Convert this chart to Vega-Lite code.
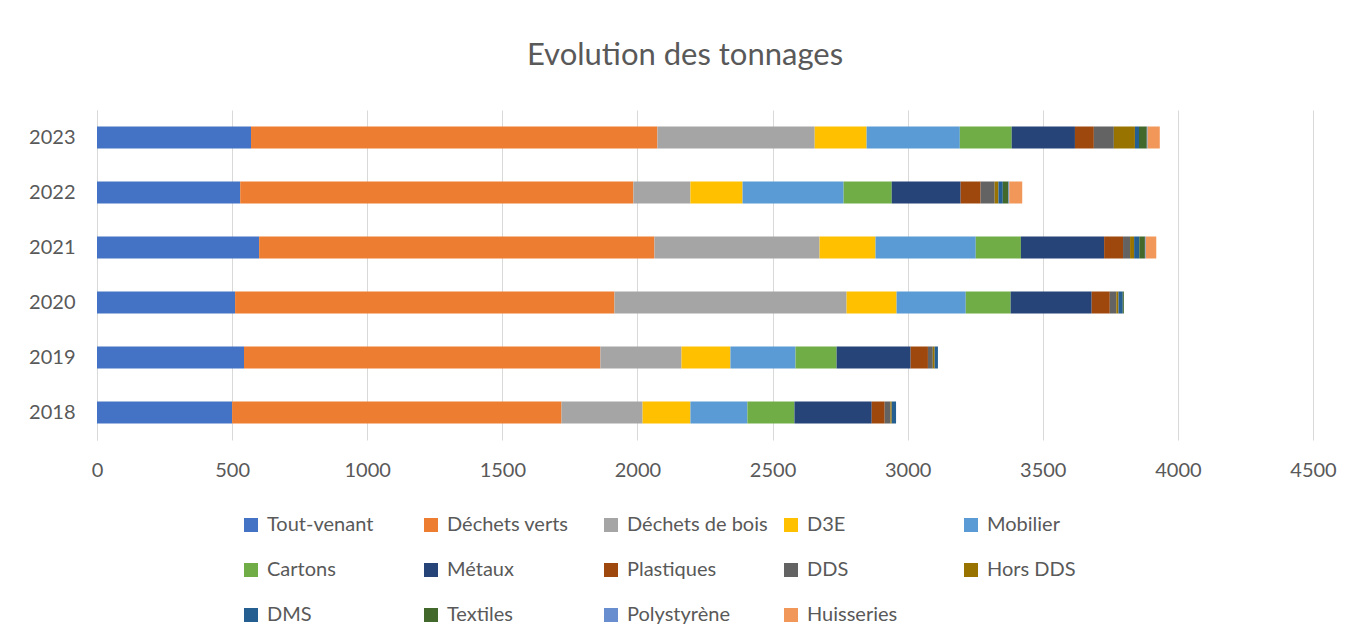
{
  "$schema": "https://vega.github.io/schema/vega-lite/v6.json",
  "width": 1216,
  "height": 330,
  "autosize": {"type": "none"},
  "padding": {"left": 97, "top": 110, "right": 44, "bottom": 201},
  "background": "white",
  "title": {
    "text": "Evolution des tonnages",
    "font": "Lato",
    "fontSize": 31,
    "fontWeight": "normal",
    "color": "#595959",
    "anchor": "middle",
    "dx": -20,
    "offset": 38
  },
  "data": {
    "values": [
      {"year": "2018", "type": "Tout-venant", "t": 500},
      {"year": "2018", "type": "Déchets verts", "t": 1219},
      {"year": "2018", "type": "Déchets de bois", "t": 300},
      {"year": "2018", "type": "D3E", "t": 177},
      {"year": "2018", "type": "Mobilier", "t": 211},
      {"year": "2018", "type": "Cartons", "t": 174},
      {"year": "2018", "type": "Métaux", "t": 286},
      {"year": "2018", "type": "Plastiques", "t": 48},
      {"year": "2018", "type": "DDS", "t": 21},
      {"year": "2018", "type": "Hors DDS", "t": 5},
      {"year": "2018", "type": "DMS", "t": 16},
      {"year": "2019", "type": "Tout-venant", "t": 544},
      {"year": "2019", "type": "Déchets verts", "t": 1319},
      {"year": "2019", "type": "Déchets de bois", "t": 300},
      {"year": "2019", "type": "D3E", "t": 181},
      {"year": "2019", "type": "Mobilier", "t": 241},
      {"year": "2019", "type": "Cartons", "t": 152},
      {"year": "2019", "type": "Métaux", "t": 274},
      {"year": "2019", "type": "Plastiques", "t": 64},
      {"year": "2019", "type": "DDS", "t": 18},
      {"year": "2019", "type": "Hors DDS", "t": 7},
      {"year": "2019", "type": "DMS", "t": 12},
      {"year": "2020", "type": "Tout-venant", "t": 511},
      {"year": "2020", "type": "Déchets verts", "t": 1404},
      {"year": "2020", "type": "Déchets de bois", "t": 859},
      {"year": "2020", "type": "D3E", "t": 185},
      {"year": "2020", "type": "Mobilier", "t": 256},
      {"year": "2020", "type": "Cartons", "t": 166},
      {"year": "2020", "type": "Métaux", "t": 300},
      {"year": "2020", "type": "Plastiques", "t": 67},
      {"year": "2020", "type": "DDS", "t": 24},
      {"year": "2020", "type": "Hors DDS", "t": 8},
      {"year": "2020", "type": "DMS", "t": 16},
      {"year": "2020", "type": "Textiles", "t": 4},
      {"year": "2021", "type": "Tout-venant", "t": 600},
      {"year": "2021", "type": "Déchets verts", "t": 1463},
      {"year": "2021", "type": "Déchets de bois", "t": 611},
      {"year": "2021", "type": "D3E", "t": 207},
      {"year": "2021", "type": "Mobilier", "t": 371},
      {"year": "2021", "type": "Cartons", "t": 167},
      {"year": "2021", "type": "Métaux", "t": 308},
      {"year": "2021", "type": "Plastiques", "t": 70},
      {"year": "2021", "type": "DDS", "t": 26},
      {"year": "2021", "type": "Hors DDS", "t": 15},
      {"year": "2021", "type": "DMS", "t": 19},
      {"year": "2021", "type": "Textiles", "t": 21},
      {"year": "2021", "type": "Polystyrène", "t": 3},
      {"year": "2021", "type": "Huisseries", "t": 39},
      {"year": "2022", "type": "Tout-venant", "t": 530},
      {"year": "2022", "type": "Déchets verts", "t": 1455},
      {"year": "2022", "type": "Déchets de bois", "t": 211},
      {"year": "2022", "type": "D3E", "t": 193},
      {"year": "2022", "type": "Mobilier", "t": 374},
      {"year": "2022", "type": "Cartons", "t": 178},
      {"year": "2022", "type": "Métaux", "t": 255},
      {"year": "2022", "type": "Plastiques", "t": 74},
      {"year": "2022", "type": "DDS", "t": 52},
      {"year": "2022", "type": "Hors DDS", "t": 14},
      {"year": "2022", "type": "DMS", "t": 16},
      {"year": "2022", "type": "Textiles", "t": 21},
      {"year": "2022", "type": "Polystyrène", "t": 3},
      {"year": "2022", "type": "Huisseries", "t": 48},
      {"year": "2023", "type": "Tout-venant", "t": 570},
      {"year": "2023", "type": "Déchets verts", "t": 1504},
      {"year": "2023", "type": "Déchets de bois", "t": 582},
      {"year": "2023", "type": "D3E", "t": 192},
      {"year": "2023", "type": "Mobilier", "t": 345},
      {"year": "2023", "type": "Cartons", "t": 192},
      {"year": "2023", "type": "Métaux", "t": 234},
      {"year": "2023", "type": "Plastiques", "t": 70},
      {"year": "2023", "type": "DDS", "t": 74},
      {"year": "2023", "type": "Hors DDS", "t": 78},
      {"year": "2023", "type": "DMS", "t": 15},
      {"year": "2023", "type": "Textiles", "t": 29},
      {"year": "2023", "type": "Polystyrène", "t": 3},
      {"year": "2023", "type": "Huisseries", "t": 45}
    ]
  },
  "transform": [
    {"calculate": "indexof(['Tout-venant', 'Déchets verts', 'Déchets de bois', 'D3E', 'Mobilier', 'Cartons', 'Métaux', 'Plastiques', 'DDS', 'Hors DDS', 'DMS', 'Textiles', 'Polystyrène', 'Huisseries'], datum.type)", "as": "stackOrder"}
  ],
  "mark": {"type": "bar"},
  "encoding": {
    "y": {
      "field": "year",
      "type": "nominal",
      "sort": "descending",
      "scale": {"paddingInner": 0.6, "paddingOuter": 0.3},
      "axis": {
        "title": null,
        "ticks": false,
        "grid": false,
        "domain": true,
        "domainColor": "#d9d9d9",
        "domainWidth": 1,
        "labelFont": "Lato",
        "labelFontSize": 20,
        "labelColor": "#595959",
        "labelPadding": 22
      }
    },
    "x": {
      "field": "t",
      "type": "quantitative",
      "stack": "zero",
      "scale": {"domain": [0, 4500], "nice": false},
      "axis": {
        "title": null,
        "values": [0, 500, 1000, 1500, 2000, 2500, 3000, 3500, 4000, 4500],
        "format": "d",
        "ticks": false,
        "domain": false,
        "grid": true,
        "gridColor": "#d9d9d9",
        "gridWidth": 1,
        "labelFont": "Lato",
        "labelFontSize": 20,
        "labelColor": "#595959",
        "labelPadding": 20,
        "labelFlush": false
      }
    },
    "order": {"field": "stackOrder", "type": "quantitative", "sort": "ascending"},
    "color": {
      "field": "type",
      "type": "nominal",
      "sort": ["Tout-venant", "Déchets verts", "Déchets de bois", "D3E", "Mobilier", "Cartons", "Métaux", "Plastiques", "DDS", "Hors DDS", "DMS", "Textiles", "Polystyrène", "Huisseries"],
      "scale": {
        "domain": ["Tout-venant", "Déchets verts", "Déchets de bois", "D3E", "Mobilier", "Cartons", "Métaux", "Plastiques", "DDS", "Hors DDS", "DMS", "Textiles", "Polystyrène", "Huisseries"],
        "range": ["#4472C4", "#ED7D31", "#A5A5A5", "#FFC000", "#5B9BD5", "#70AD47", "#264478", "#9E480E", "#636363", "#997300", "#255E91", "#43682B", "#698ED0", "#F1975A"]
      },
      "legend": {
        "title": null,
        "orient": "none",
        "legendX": 144,
        "legendY": 405,
        "direction": "horizontal",
        "columns": 5,
        "gridAlign": "all",
        "columnPadding": 13,
        "rowPadding": 25,
        "symbolType": "square",
        "symbolSize": 196,
        "symbolStrokeWidth": 0,
        "labelFont": "Lato",
        "labelFontSize": 20,
        "labelColor": "#595959",
        "labelOffset": 6,
        "labelLimit": 300
      }
    }
  },
  "config": {
    "view": {"stroke": null}
  }
}
